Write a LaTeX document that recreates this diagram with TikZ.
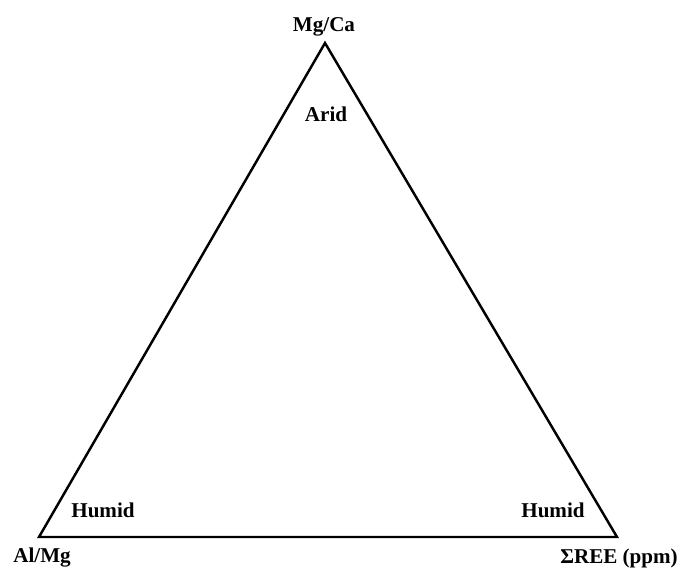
\documentclass[tikz,border=0pt]{standalone}
\usepackage{fontspec}
\setmainfont{Liberation Serif}
\usepackage{tikz}
\usetikzlibrary{positioning, calc}

\begin{document}
\begin{tikzpicture}[
          x=0.02cm, y=-0.02cm,
          every node/.style={font=\fontsize{12}{14}\selectfont\bfseries, inner sep=0pt},
          side/.style={line width=1.4pt, line join=miter}
        ]
          \useasboundingbox (0,0) rectangle (680,568);

          \coordinate (top) at (325,43);
          \coordinate (left) at (39,537);
          \coordinate (right) at (617,537);

          \draw[side] (top) -- (left) -- (right) -- cycle;

          \node (mgca) at (324,27) {Mg/Ca};
          \node (almg) at (42,558) {Al/Mg};
          \node (ree) at (619,558) {ΣREE (ppm)};

          \node (arid) at (326,114) {Arid};
          \node (humidl) at (103,510) {Humid};
          \node (humidr) at (553,510) {Humid};
        \end{tikzpicture}
\end{document}
